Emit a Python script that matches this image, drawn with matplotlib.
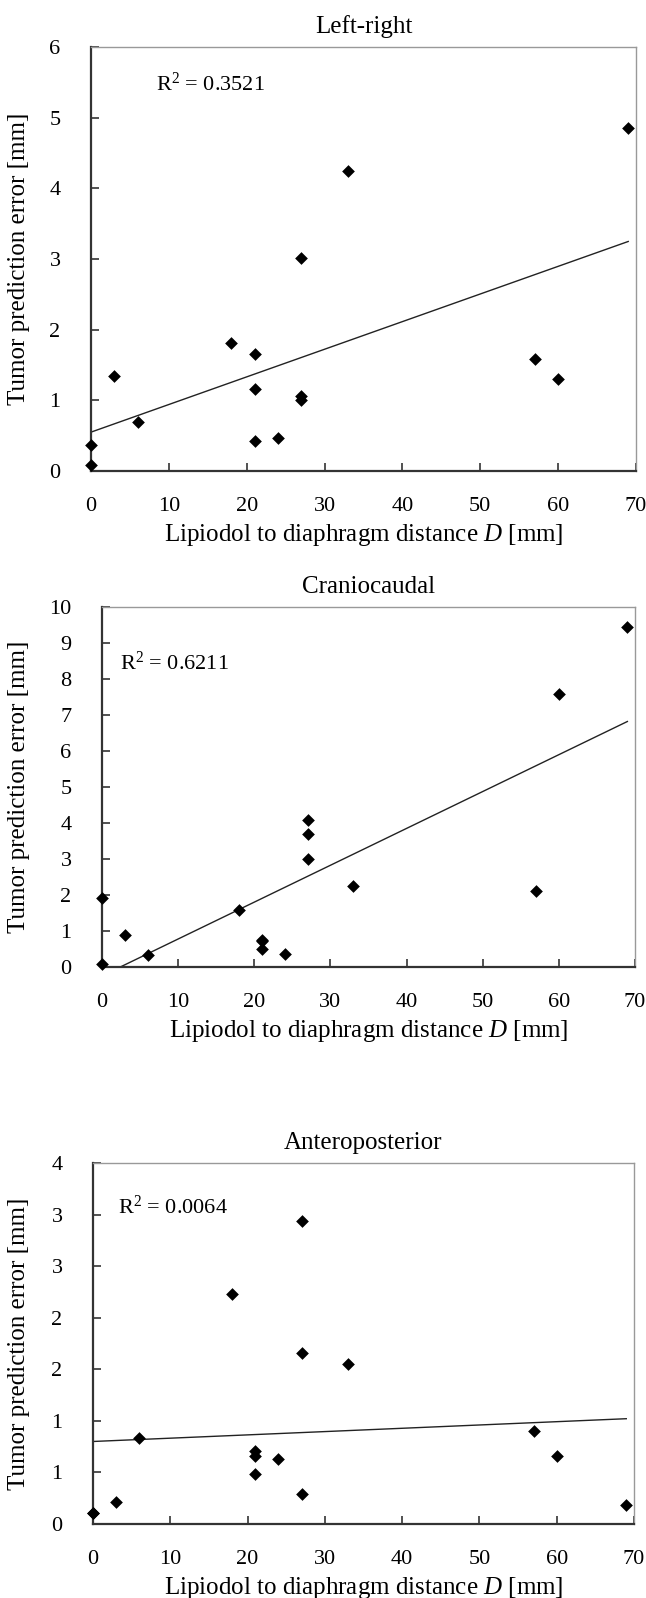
import matplotlib
matplotlib.use("Agg")
import matplotlib.pyplot as plt
import numpy as np

plt.rcParams['font.family'] = ['Liberation Serif', 'DejaVu Serif']
plt.rcParams['mathtext.fontset'] = 'custom'
plt.rcParams['mathtext.rm'] = 'Liberation Serif'
plt.rcParams['mathtext.it'] = 'Liberation Serif:italic'
plt.rcParams['mathtext.default'] = 'regular'

# ---------------- data ----------------
titles = ["Left-right", "Craniocaudal", "Anteroposterior"]
r2_labels = ["0.3521", "0.6211", "0.0064"]

lr_x = [0, 0, 3, 6, 18, 21, 21, 21, 24, 27, 27, 27, 33, 57, 60, 69]
lr_y = [0.09, 0.37, 1.35, 0.70, 1.81, 1.66, 1.16, 0.42, 0.47, 3.02, 1.06, 1.01, 4.25, 1.58, 1.30, 4.86]

cc_x = [0, 0, 3, 6, 18, 21, 21, 21, 24, 27, 27, 27, 33, 57, 60, 69]
cc_y = [0.07, 1.92, 0.88, 0.33, 1.57, 0.74, 0.50, 0.72, 0.37, 4.08, 3.69, 3.00, 2.24, 2.11, 7.57, 9.45]

ap_x = [0, 0, 3, 6, 18, 21, 21, 21, 24, 27, 27, 27, 33, 57, 60, 69]
ap_y = [0.11, 0.11, 0.21, 0.83, 2.23, 0.71, 0.66, 0.485, 0.63, 2.94, 1.66, 0.29, 1.55, 0.90, 0.66, 0.18]

# linear trend lines (intercept, slope)
lr_trend = [0.55, 0.0391]
cc_trend = [-0.246, 0.1024]
ap_trend = [0.80, 0.0032]

x_ticks = [0, 10, 20, 30, 40, 50, 60, 70]
lr_yticks = [0, 1, 2, 3, 4, 5, 6]
cc_yticks = [0, 1, 2, 3, 4, 5, 6, 7, 8, 9, 10]
ap_yticks = [0, 0.5, 1.0, 1.5, 2.0, 2.5, 3.0, 3.5]
ap_yticklabels = ["0", "1", "1", "2", "2", "3", "3", "4"]

# R^2 text anchor (data coords: x, y)
r2_pos = [(8.4, 5.47), (2.4, 8.45), (3.2, 3.07)]

# --------------- layout ---------------
W, H = 646, 1598
fig = plt.figure(figsize=(W / 100, H / 100), dpi=100)

rects_px = [(91, 47, 636, 471), (102, 607, 635, 967), (93, 1163, 634, 1524)]

datasets = [
    (lr_x, lr_y, lr_trend, lr_yticks, None, 6),
    (cc_x, cc_y, cc_trend, cc_yticks, None, 10),
    (ap_x, ap_y, ap_trend, ap_yticks, ap_yticklabels, 3.5),
]

TICK_FS = 16
LAB_FS = 18
for i, ((x, y, tr, yt, ytl, ymax), (l, t, r, b)) in enumerate(zip(datasets, rects_px)):
    ax = fig.add_axes([l / W, 1 - b / H, (r - l) / W, (b - t) / H])
    ax.set_xlim(0, 70)
    ax.set_ylim(0, ymax)
    ax.scatter(x, y, marker='D', s=42, color='black', zorder=3, clip_on=False, linewidths=0)
    xs = np.array([min(x), max(x)], dtype=float)
    ys = tr[0] + tr[1] * xs
    ax.plot(xs, ys, color='#222222', lw=1.0, zorder=2)
    ax.set_xticks(x_ticks)
    ax.set_yticks(yt)
    if ytl is not None:
        ax.set_yticklabels(ytl)
    ax.tick_params(axis='x', direction='in', length=6, width=1.2, labelsize=TICK_FS, pad=19,
                   color='#333333')
    ax.tick_params(axis='y', direction='in', length=6, width=1.2, labelsize=TICK_FS, pad=22,
                   color='#333333')
    for s in ['left', 'bottom']:
        ax.spines[s].set_color('#333333')
        ax.spines[s].set_linewidth(1.6)
    for s in ['top', 'right']:
        ax.spines[s].set_color('#999999')
        ax.spines[s].set_linewidth(1.0)
    ax.set_xlabel(r'Lipiodol to diaphragm distance $\mathit{D}$ [mm]', fontsize=LAB_FS, labelpad=4)
    ax.set_ylabel('Tumor prediction error [mm]', fontsize=LAB_FS, va='center')
    ax.yaxis.set_label_coords((19 - l) / (r - l), 0.5)
    ax.set_title(titles[i], fontsize=LAB_FS, pad=10)
    ax.text(r2_pos[i][0], r2_pos[i][1], 'R$^{2}$ = ' + r2_labels[i], fontsize=16,
            va='center', ha='left')

fig.savefig('out.png', dpi=100)
